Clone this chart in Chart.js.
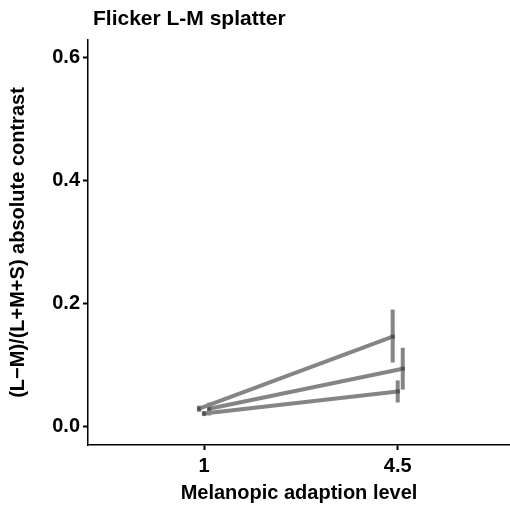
<!DOCTYPE html>
<html>
<head>
<meta charset="utf-8">
<script src="https://cdn.jsdelivr.net/npm/chart.js@4"></script>
<style>
  html, body { margin: 0; padding: 0; background: #fff; }
  #wrap { width: 510px; height: 508px; }
</style>
</head>
<body>
<div id="wrap"><canvas id="myChart" width="510" height="508"></canvas></div>
<script>
// adaptation levels (categorical x axis)
const levels = ["1", "4.5"];
const levelPos = [1, 2];

// three conditions, mean and error bar ends
const mean1 = [0.029, 0.146];
const low1 = [0.024, 0.104];
const high1 = [0.034, 0.190];

const mean2 = [0.029, 0.094];
const low2 = [0.018, 0.060];
const high2 = [0.039, 0.128];

const mean3 = [0.021, 0.057];
const low3 = [0.017, 0.039];
const high3 = [0.025, 0.075];

const yTicks = [0, 0.2, 0.4, 0.6];

const dodge = [-0.026, 0.026, 0]; // horizontal jitter per series
const lineGrey = '#858585';
const FONT = "'Liberation Sans', Arial, sans-serif";

const series = [
	{ mean: mean1, low: low1, high: high1 },
	{ mean: mean2, low: low2, high: high2 },
	{ mean: mean3, low: low3, high: high3 }
];

const datasets = series.map((s, i) => ({
	data: s.mean.map((v, j) => ({ x: levelPos[j] + dodge[i], y: v, lo: s.low[j], hi: s.high[j] })),
	borderColor: lineGrey,
	borderWidth: 4,
	pointStyle: 'rect',
	pointRadius: 2.5,
	pointBackgroundColor: '#4a4a4a',
	pointBorderColor: '#6a6a6a',
	pointBorderWidth: 1,
	tension: 0
}));

// error bars drawn through the scales
const errorBars = {
	id: 'errorBars',
	beforeDatasetsDraw(chart) {
		const ctx = chart.ctx;
		const xs = chart.scales.x, ys = chart.scales.y;
		ctx.save();
		ctx.strokeStyle = lineGrey;
		ctx.lineWidth = 4;
		chart.data.datasets.forEach(ds => {
			ds.data.forEach(p => {
				const px = xs.getPixelForValue(p.x);
				ctx.beginPath();
				ctx.moveTo(px, ys.getPixelForValue(p.lo));
				ctx.lineTo(px, ys.getPixelForValue(p.hi));
				ctx.stroke();
			});
		});
		ctx.restore();
	}
};

// title above the plot panel
const panelTitle = {
	id: 'panelTitle',
	afterDraw(chart) {
		const ctx = chart.ctx;
		ctx.save();
		ctx.font = "bold 21px " + FONT;
		ctx.fillStyle = '#000';
		ctx.textBaseline = 'middle';
		ctx.textAlign = 'left';
		ctx.fillText('Flicker L-M splatter', chart.chartArea.left + 5, 19);
		ctx.restore();
	}
};

const ctx = document.getElementById('myChart').getContext('2d');
new Chart(ctx, {
	type: 'line',
	data: { datasets: datasets },
	options: {
		responsive: false,
		animation: false,
		layout: { autoPadding: false, padding: { top: 40, right: 0, left: 6, bottom: 0 } },
		plugins: {
			legend: { display: false },
			tooltip: { enabled: false },
			title: { display: false }
		},
		scales: {
			x: {
				type: 'linear',
				min: 0.4,
				max: 2.58,
				afterBuildTicks: axis => { axis.ticks = levelPos.map(v => ({ value: v })); },
				afterFit: axis => { axis.height = 63; },
				ticks: {
					callback: v => levels[levelPos.indexOf(v)],
					color: '#000',
					font: { family: FONT, size: 20, weight: 'bold' },
					padding: 4,
					maxRotation: 0
				},
				grid: { drawOnChartArea: false, tickLength: 5, tickColor: '#000', tickWidth: 2 },
				border: { color: '#000', width: 1.5 },
				title: {
					display: true,
					text: 'Melanopic adaption level',
					color: '#000',
					font: { family: FONT, size: 20, weight: 'bold' },
					padding: { top: 2, bottom: 3 }
				}
			},
			y: {
				min: -0.03,
				max: 0.628,
				afterBuildTicks: axis => { axis.ticks = yTicks.map(v => ({ value: v })); },
				afterFit: axis => { axis.width = 82; },
				ticks: {
					callback: v => v.toFixed(1),
					color: '#000',
					font: { family: FONT, size: 20, weight: 'bold' },
					padding: 3
				},
				grid: { drawOnChartArea: false, tickLength: 5, tickColor: '#000', tickWidth: 2 },
				border: { color: '#000', width: 1.5 },
				title: {
					display: true,
					text: '(L\u2212M)/(L+M+S) absolute contrast',
					color: '#000',
					font: { family: FONT, size: 20, weight: 'bold' },
					padding: { top: 0, bottom: 6 }
				}
			}
		}
	},
	plugins: [errorBars, panelTitle]
});
</script>
</body>
</html>
